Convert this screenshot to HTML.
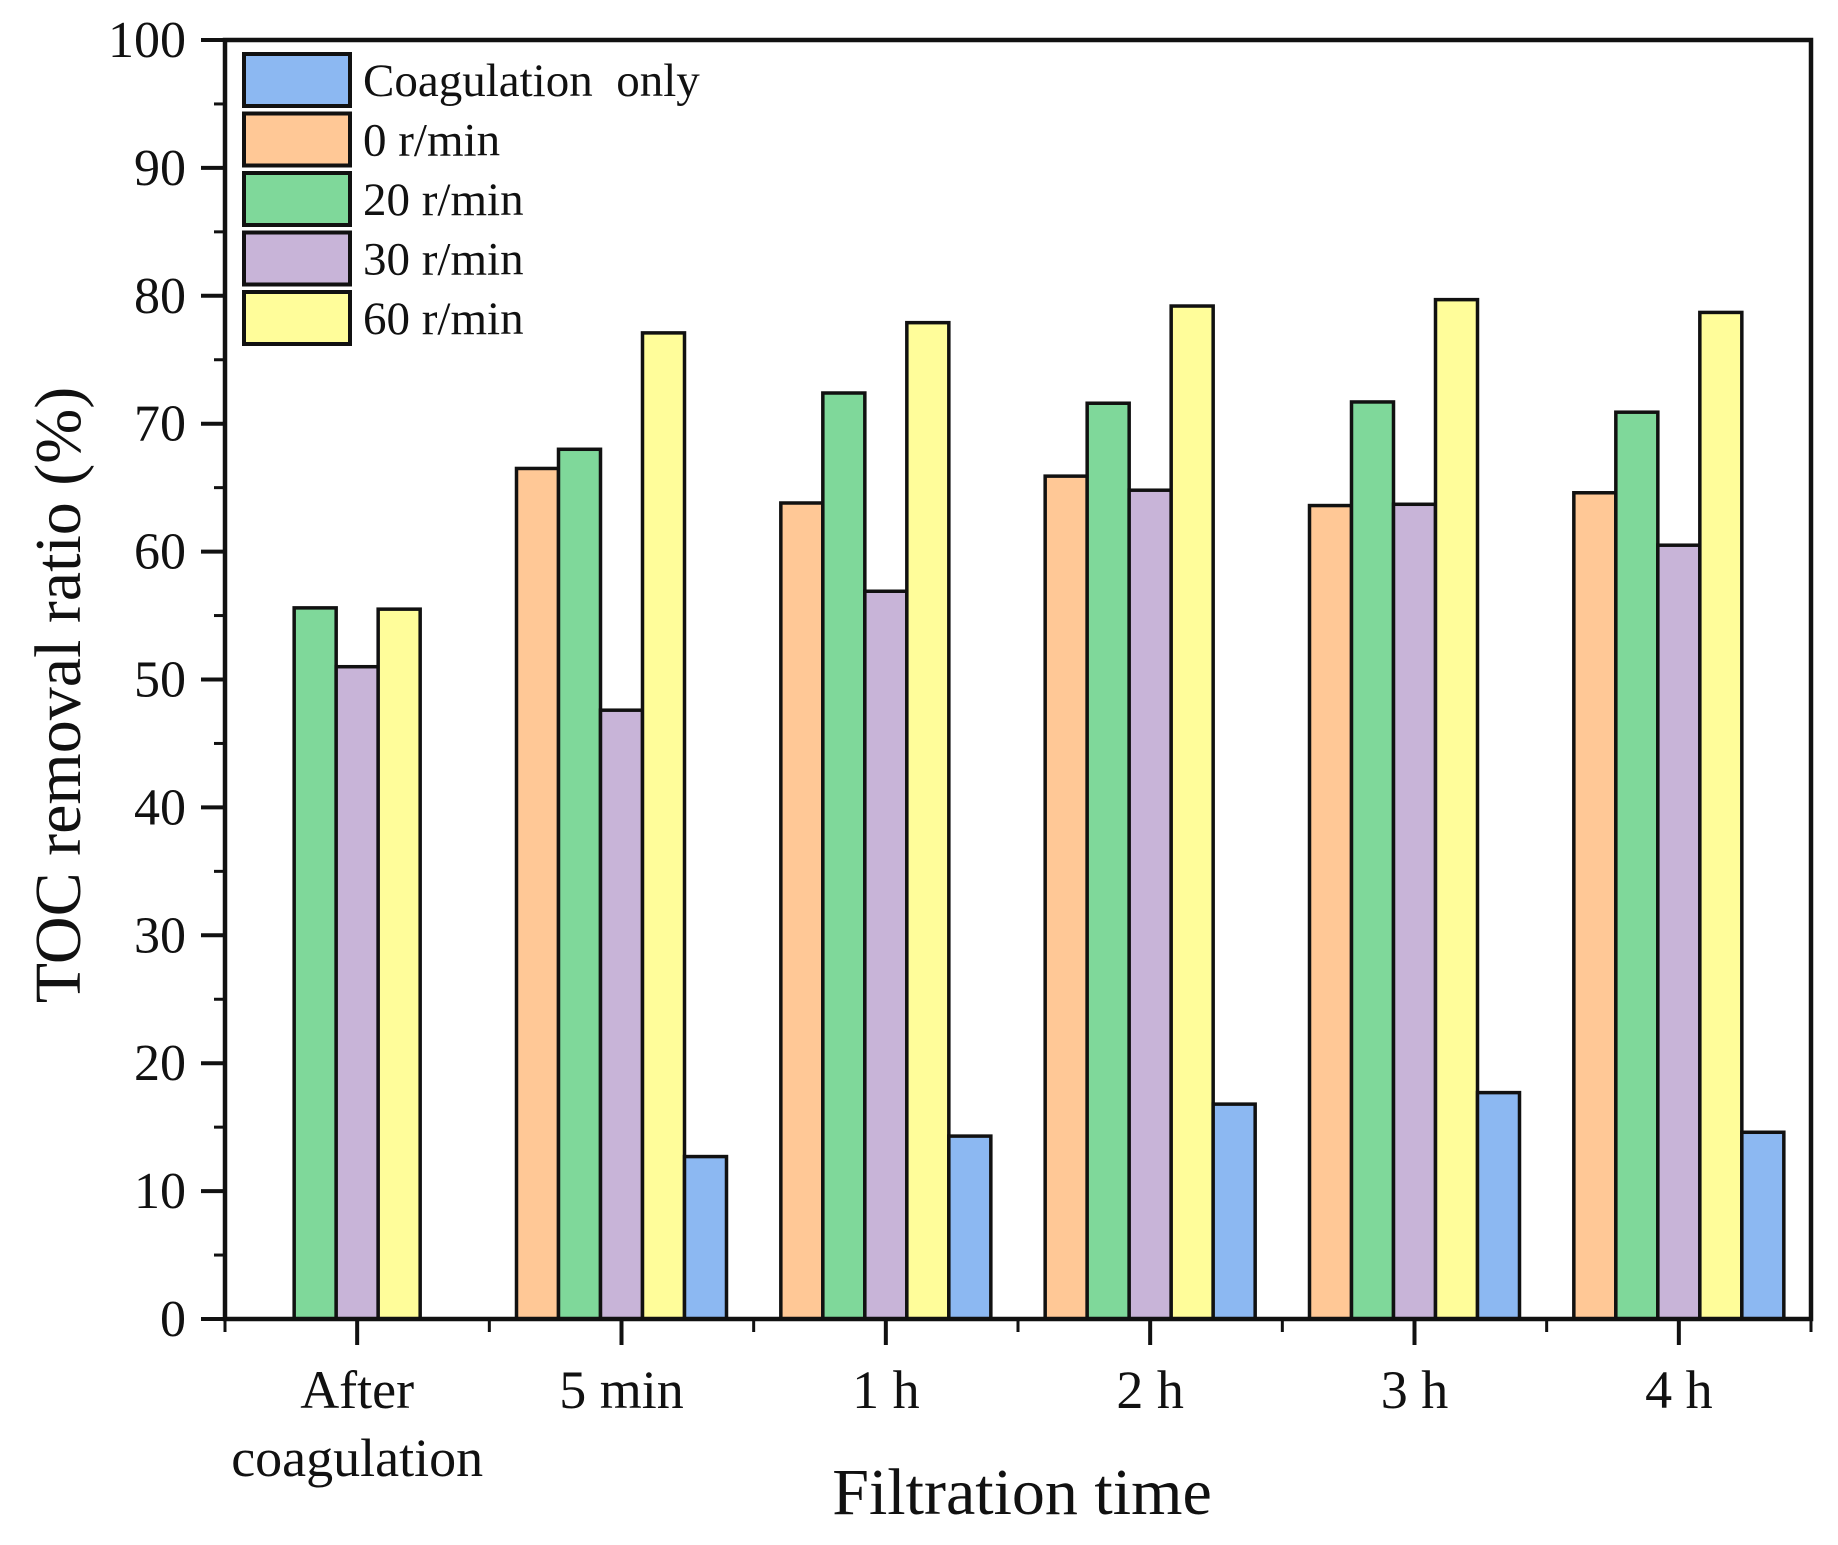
<!DOCTYPE html>
<html><head><meta charset="utf-8"><style>
html,body{margin:0;padding:0;background:#fff;}
svg{display:block;font-family:"Liberation Serif",serif;}
</style></head><body>
<svg id="chart" width="1838" height="1545" xmlns="http://www.w3.org/2000/svg"></svg>
<script>
const categories = ["After|coagulation","5 min","1 h","2 h","3 h","4 h"];
const seriesNames = ["0 r/min","20 r/min","30 r/min","60 r/min","Coagulation only"];
const s0rpm = [null,66.5,63.8,65.9,63.6,64.6];
const s20rpm = [55.6,68.0,72.4,71.6,71.7,70.9];
const s30rpm = [51.0,47.6,56.9,64.8,63.7,60.5];
const s60rpm = [55.5,77.1,77.9,79.2,79.7,78.7];
const sCoag = [null,12.7,14.3,16.8,17.7,14.6];
const yTicks = [0,10,20,30,40,50,60,70,80,90,100];
const legendOrder = ["Coagulation only","0 r/min","20 r/min","30 r/min","60 r/min"];

const colors = {"0 r/min":"#ffc896","20 r/min":"#7fd89a","30 r/min":"#c8b4d8","60 r/min":"#fffd9a","Coagulation only":"#8cb8f2"};
const seriesData = [s0rpm,s20rpm,s30rpm,s60rpm,sCoag];
const L=225,R=1811,T=40,B=1319;
const NS="http://www.w3.org/2000/svg";
const svg=document.getElementById('chart');
function y(v){return B-(v/100)*(B-T);}
const cw=(R-L)/categories.length;
const bw=42;
function x(i){return L+i*cw;}
function mk(tag,attrs,parent){const e=document.createElementNS(NS,tag);for(const k in attrs)e.setAttribute(k,attrs[k]);(parent||svg).appendChild(e);return e;}

seriesData.forEach((arr,si)=>{
  arr.forEach((v,ci)=>{
    if(v==null)return;
    const bx=x(ci)+cw/2-2.5*bw+si*bw;
    const r=mk('rect',{x:bx,y:y(v),width:bw,height:B-y(v),fill:colors[seriesNames[si]],stroke:'#111','stroke-width':3.5});
    
    
  });
});
const fr=mk('rect',{x:L,y:T,width:R-L,height:B-T,fill:'none',stroke:'#111','stroke-width':4.5});


yTicks.forEach(v=>{
  mk('line',{x1:L-24,x2:L,y1:y(v),y2:y(v),stroke:'#111','stroke-width':4});
  if(v<100){mk('line',{x1:L-11,x2:L,y1:y(v+5),y2:y(v+5),stroke:'#111','stroke-width':3});}
  const t=mk('text',{x:186,y:y(v)+17,'text-anchor':'end','font-size':52,fill:'#111'});
  t.textContent=v;
  
  
});
categories.forEach((c,i)=>{
  mk('line',{x1:x(i)+cw/2,x2:x(i)+cw/2,y1:B,y2:B+26,stroke:'#111','stroke-width':4});
  mk('line',{x1:x(i),x2:x(i),y1:B,y2:B+13,stroke:'#111','stroke-width':3});
  const parts=c.split('|');
  parts.forEach((p,j)=>{
    const t=mk('text',{x:x(i)+cw/2,y:1408+j*68,'text-anchor':'middle','font-size':54,fill:'#111'});
    t.textContent=p;
    
    
  });
});
mk('line',{x1:R,x2:R,y1:B,y2:B+13,stroke:'#111','stroke-width':3});
const xt=mk('text',{x:1022,y:1514,'text-anchor':'middle','font-size':66,fill:'#111'});
xt.textContent='Filtration time';


const yt=mk('text',{x:0,y:0,'text-anchor':'middle','font-size':66,fill:'#111',transform:'translate(80,695) rotate(-90)'});
yt.textContent='TOC removal ratio (%)';


legendOrder.forEach((n,i)=>{
  const g=mk('g',{});
  
  
  const ty=54+i*59.5;
  mk('rect',{x:244,y:ty,width:106,height:52,fill:colors[n],stroke:'#111','stroke-width':4},g);
  const t=mk('text',{x:363,y:ty+42,'font-size':47,fill:'#111','xml:space':'preserve'},g);
  t.setAttribute('style','white-space:pre');
  t.textContent=(n==='Coagulation only')?'Coagulation  only':n;
});
</script>
</body></html>
